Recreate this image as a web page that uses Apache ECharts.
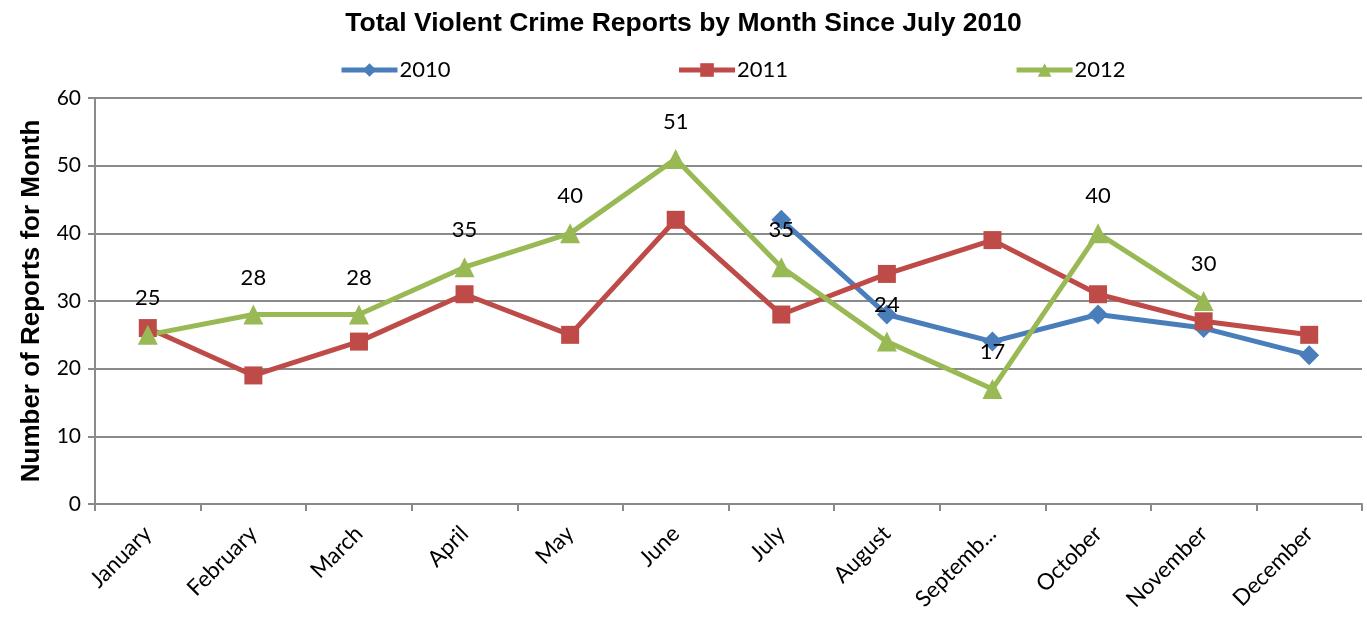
<!DOCTYPE html>
<html>
<head>
<meta charset="utf-8">
<script src="https://cdn.jsdelivr.net/npm/echarts@6/dist/echarts.min.js"></script>
<style>
  html, body { margin: 0; padding: 0; background: #fff; }
  #chart { width: 1367px; height: 619px; }
</style>
</head>
<body>
<div id="chart"></div>
<script>
// Monthly violent crime report counts
const months = ['January', 'February', 'March', 'April', 'May', 'June', 'July', 'August', 'Septemb...', 'October', 'November', 'December'];
const reports2010 = [null, null, null, null, null, null, 42, 28, 24, 28, 26, 22];
const reports2011 = [26, 19, 24, 31, 25, 42, 28, 34, 39, 31, 27, 25];
const reports2012 = [25, 28, 28, 35, 40, 51, 35, 24, 17, 40, 30, null];
const yTicks = [0, 10, 20, 30, 40, 50, 60];

const gridGrey = '#8a8a8a';
const labelFont = 'Lato, "Open Sans", sans-serif';
const boldFont = '"Liberation Sans", Arial, sans-serif';

const chart = echarts.init(document.getElementById('chart'));

chart.setOption({
  animation: false,
  title: {
    text: 'Total Violent Crime Reports by Month Since July 2010',
    left: 'center',
    top: 5,
    textStyle: { fontFamily: boldFont, fontSize: 26.5, fontWeight: 'bold', color: '#000' }
  },
  legend: {
    top: 54,
    left: 334,
    itemGap: 226,
    itemWidth: 56,
    itemHeight: 17,
    lineStyle: { width: 5 },
    textStyle: { fontFamily: labelFont, fontSize: 22, color: '#000', padding: [0, 0, 0, -3] },
    data: ['2010', '2011', '2012']
  },
  grid: { left: 95, right: 5, top: 98, bottom: 115 },
  xAxis: {
    type: 'category',
    data: months,
    boundaryGap: true,
    axisLine: { lineStyle: { color: gridGrey, width: 2 } },
    axisTick: { show: true, length: 7, lineStyle: { color: gridGrey, width: 2 } },
    axisLabel: {
      interval: 0,
      rotate: 45,
      margin: 26,
      fontFamily: labelFont,
      fontSize: 22.5,
      color: '#000'
    }
  },
  yAxis: {
    type: 'value',
    min: yTicks[0],
    max: yTicks[yTicks.length - 1],
    interval: 10,
    name: 'Number of Reports for Month',
    nameLocation: 'middle',
    nameGap: 50,
    nameTextStyle: { fontFamily: boldFont, fontSize: 26, fontWeight: 'bold', color: '#000' },
    axisLine: { show: true, lineStyle: { color: gridGrey, width: 2 } },
    axisTick: { show: true, length: 7, lineStyle: { color: gridGrey, width: 2 } },
    axisLabel: { margin: 14, fontFamily: labelFont, fontSize: 21, color: '#000' },
    splitLine: { lineStyle: { color: gridGrey, width: 2 } }
  },
  series: [
    {
      name: '2010',
      type: 'line',
      data: reports2010,
      symbol: 'diamond',
      symbolSize: 20,
      color: '#4A7EBB',
      lineStyle: { width: 5 },
      connectNulls: false
    },
    {
      name: '2011',
      type: 'line',
      data: reports2011,
      symbol: 'rect',
      symbolSize: 18,
      color: '#BE4B48',
      lineStyle: { width: 5 }
    },
    {
      name: '2012',
      type: 'line',
      data: reports2012,
      symbol: 'triangle',
      symbolSize: 20,
      color: '#98B954',
      lineStyle: { width: 5 },
      label: {
        show: true,
        position: 'top',
        distance: 16,
        fontFamily: labelFont,
        fontSize: 22,
        color: '#000'
      }
    }
  ]
});
</script>
</body>
</html>
